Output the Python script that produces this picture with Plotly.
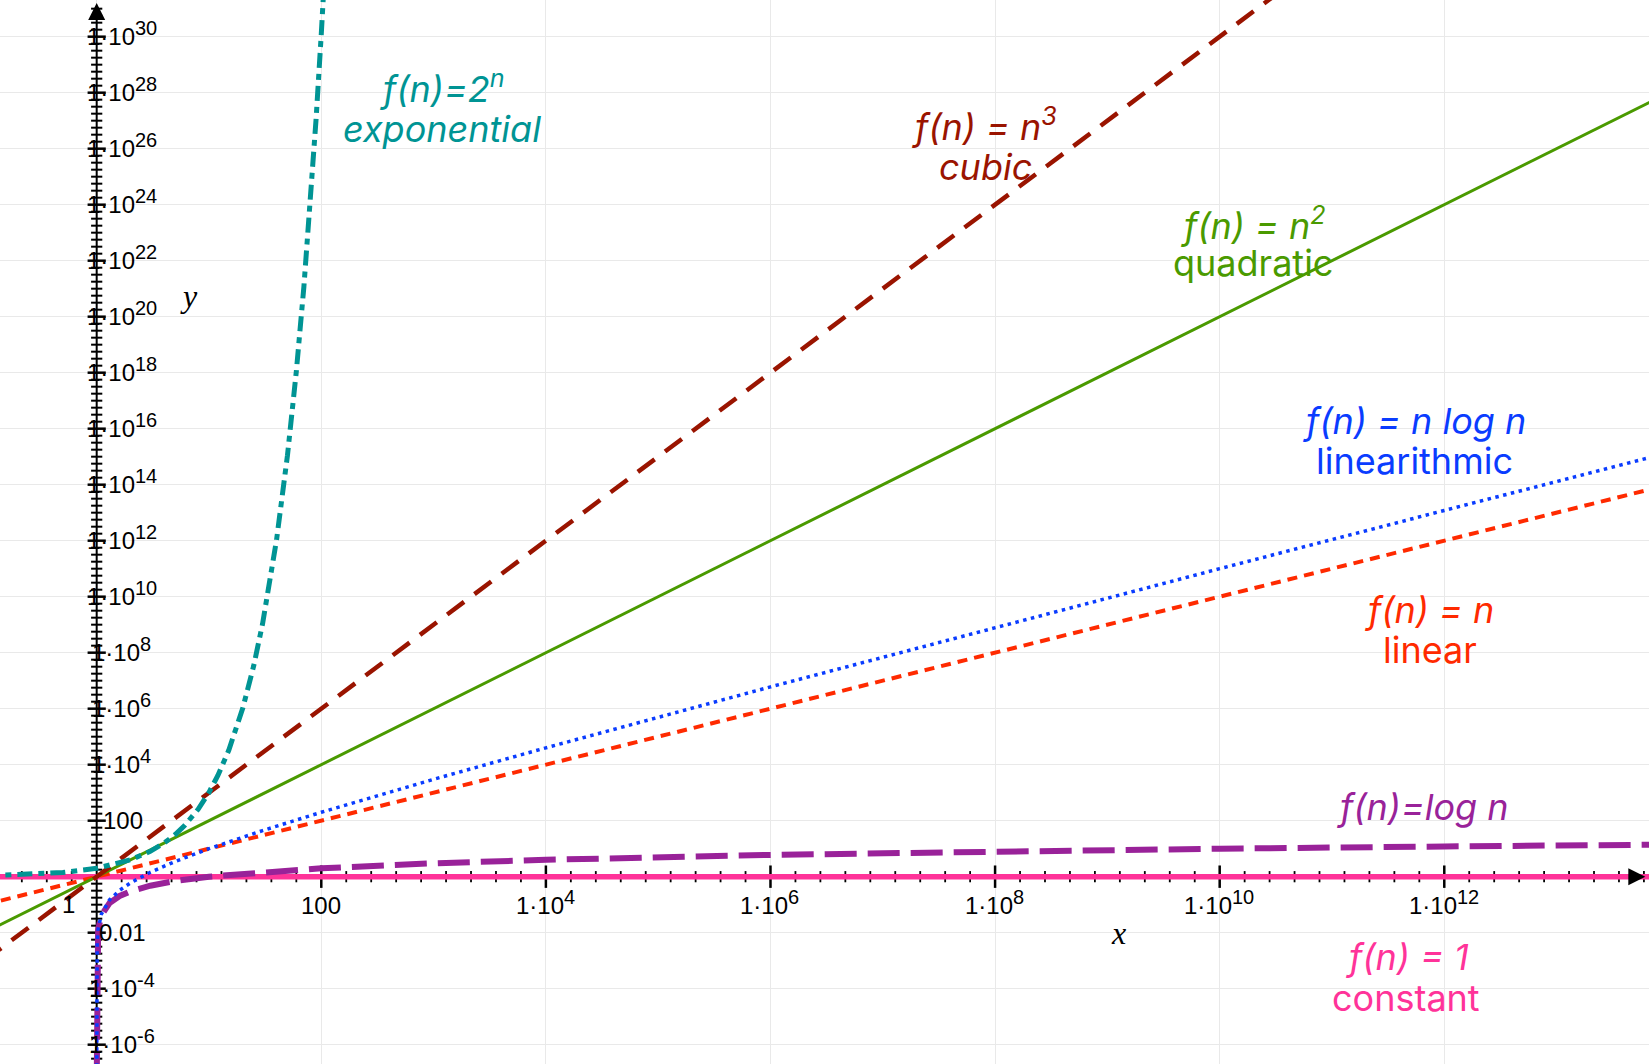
import plotly.graph_objects as go
import numpy as np

# ---------------- data ----------------
n_power = [0.1, 1, 1e14]
y_const = [1, 1, 1]
y_linear = [0.1, 1, 1e14]
y_quadratic = [0.01, 1, 1e28]
y_cubic = [0.001, 1, 1e42]

n_exp = [0.1, 0.3, 0.5, 1, 1.5, 2, 3, 4, 5, 6, 8, 10, 12, 15, 20, 25, 30, 40,
         50, 60, 70, 80, 90, 100, 110]
y_exp = [1.072, 1.231, 1.414, 2, 2.83, 4, 8, 16, 32, 64, 256, 1024, 4096,
         32768, 1.049e6, 3.355e7, 1.074e9, 1.100e12, 1.126e15, 1.153e18,
         1.181e21, 1.209e24, 1.238e27, 1.268e30, 1.298e33]

n_log = [1.0000001, 1.000001, 1.00001, 1.0001, 1.001, 1.01, 1.03, 1.1, 1.3,
         1.6, 2, 3, 5, 10, 30, 100, 1e3, 1e4, 1e6, 1e8, 1e10, 1e12, 1e14]
y_nlogn = [4.34e-8, 4.34e-7, 4.34e-6, 4.34e-5, 4.345e-4, 0.004364, 0.01322,
           0.04553, 0.1481, 0.3266, 0.6021, 1.431, 3.495, 10, 44.31, 200,
           3000, 4e4, 6e6, 8e8, 1e11, 1.2e13, 1.4e15]
y_logn = [4.34e-8, 4.34e-7, 4.34e-6, 4.343e-5, 4.341e-4, 0.004321, 0.01284,
          0.04139, 0.1139, 0.2041, 0.3010, 0.4771, 0.6990, 1, 1.477, 2, 3, 4,
          6, 8, 10, 12, 14]

x_tick_exp = [2, 4, 6, 8, 10, 12]
y_tick_exp = [-6, -4, -2, 2, 4, 6, 8, 10, 12, 14, 16, 18, 20, 22, 24, 26, 28, 30]
# tick label: (base text, exponent text or None)
x_tick_text = [("100", None), ("1·10", "4"), ("1·10", "6"), ("1·10", "8"),
               ("1·10", "10"), ("1·10", "12")]
y_tick_text = [("1·10", "-6"), ("1·10", "-4"), ("0.01", None), ("100", None)] + \
              [("1·10", str(e)) for e in range(4, 31, 2)]

curve_labels = [
    # (text, px, py, color)
    ("<i>f(n)=2<sup>n</sup></i>", 442, 87, "#009494"),
    ("<i>exponential</i>", 442, 129, "#009494"),
    ("<i>f(n) = n<sup>3</sup></i>", 984, 125, "#9a1400"),
    ("<i>cubic</i>", 985, 167, "#9a1400"),
    ("<i>f(n) = n<sup>2</sup></i>", 1253, 224, "#4a9a00"),
    ("quadratic", 1253, 263, "#4a9a00"),
    ("<i>f(n) = n log n</i>", 1414, 421, "#0a3cff"),
    ("linearithmic", 1414, 461, "#0a3cff"),
    ("<i>f(n) = n</i>", 1429, 610, "#ff2a00"),
    ("linear", 1430, 650, "#ff2a00"),
    ("<i>f(n)=log n</i>", 1422, 807, "#992299"),
    ("<i>f(n) = 1</i>", 1407, 957, "#ff3399"),
    ("constant", 1406, 998, "#ff3399"),
]

# ---------------- figure ----------------
W, H = 1649, 1064
x_range = [-0.861, 13.823]
y_range = [-6.69, 31.31]

fig = go.Figure()

# axes lines
fig.add_trace(go.Scatter(x=[1, 1], y=[10 ** y_range[0], 10 ** 31.0], mode="lines",
                         line=dict(color="black", width=2), hoverinfo="skip"))
fig.add_trace(go.Scatter(x=[10 ** x_range[0], 10 ** 13.7], y=[1, 1], mode="lines",
                         line=dict(color="black", width=2), hoverinfo="skip"))

# tick marks crossing the axes
x_major = [10.0 ** k for k in x_tick_exp]
x_minor = [10.0 ** (k * 2 / 9) for k in range(-3, 63) if k % 9 != 0]
y_major = [10.0 ** k for k in y_tick_exp]
y_minor = [10.0 ** (k / 4) for k in range(-26, 125) if k % 8 != 0]

fig.add_trace(go.Scatter(x=x_minor, y=[1] * len(x_minor), mode="markers",
                         marker=dict(symbol="line-ns", size=8, line=dict(width=1.8, color="black")),
                         hoverinfo="skip", cliponaxis=False))
fig.add_trace(go.Scatter(x=x_major, y=[1] * len(x_major), mode="markers",
                         marker=dict(symbol="line-ns", size=16, line=dict(width=2.5, color="black")),
                         hoverinfo="skip"))
fig.add_trace(go.Scatter(x=[1] * len(y_minor), y=y_minor, mode="markers",
                         marker=dict(symbol="line-ew", size=8, line=dict(width=2, color="black")),
                         hoverinfo="skip", cliponaxis=False))
fig.add_trace(go.Scatter(x=[1] * len(y_major), y=y_major, mode="markers",
                         marker=dict(symbol="line-ew", size=13, line=dict(width=2.5, color="black")),
                         hoverinfo="skip"))

# curves
fig.add_trace(go.Scatter(x=n_power, y=y_const, mode="lines",
                         line=dict(color="#ff3399", width=5.5), name="1"))
fig.add_trace(go.Scatter(x=n_log, y=y_logn, mode="lines",
                         line=dict(color="#992299", width=6, dash="32px,11px"), name="log n"))
fig.add_trace(go.Scatter(x=n_power, y=y_linear, mode="lines",
                         line=dict(color="#ff2a00", width=4, dash="10px,7px"), name="n"))
fig.add_trace(go.Scatter(x=n_log, y=y_nlogn, mode="lines",
                         line=dict(color="#0a3cff", width=3.5, dash="3.5px,4.5px"), name="n log n"))
fig.add_trace(go.Scatter(x=n_power, y=y_quadratic, mode="lines",
                         line=dict(color="#4a9a00", width=3), name="n^2"))
fig.add_trace(go.Scatter(x=n_power, y=y_cubic, mode="lines",
                         line=dict(color="#9a1400", width=4.5, dash="21px,13px"), name="n^3"))
fig.add_trace(go.Scatter(x=n_exp, y=y_exp, mode="lines",
                         line=dict(color="#009494", width=5, dash="15px,6px,6px,6px"), name="2^n"))

# arrowheads (on top)
fig.add_trace(go.Scatter(x=[1], y=[10 ** 31.2], mode="markers",
                         marker=dict(symbol="arrow-up", size=17, color="black"),
                         hoverinfo="skip", cliponaxis=False))
fig.add_trace(go.Scatter(x=[10 ** 13.79], y=[1], mode="markers",
                         marker=dict(symbol="arrow-right", size=17, color="black"),
                         hoverinfo="skip", cliponaxis=False))

BASE_FS, EXP_FS = 24, 20
CHAR_W = {"0": .556, "1": .556, "2": .556, "3": .556, "4": .556, "5": .556, "6": .556,
          "7": .556, "8": .556, "9": .556, "·": .278, "-": .333, ".": .278}


def text_w(s, fs):
    return sum(CHAR_W.get(c, .556) for c in s) * fs


base_font = dict(family="Liberation Sans, Arial, sans-serif", size=BASE_FS, color="black")
exp_font = dict(family="Liberation Sans, Arial, sans-serif", size=EXP_FS, color="black")
annotations = []


def add_tick_label(xv, yv, base, ex, xshift, yshift):
    if ex is None:
        annotations.append(dict(x=xv, y=yv, xref="x", yref="y", text=base, showarrow=False,
                                xanchor="center", yanchor="middle", xshift=xshift,
                                yshift=yshift, font=base_font, borderpad=0))
        return
    bw, ew = text_w(base, BASE_FS), text_w(ex, EXP_FS)
    split = xshift - (bw + ew) / 2 + bw
    annotations.append(dict(x=xv, y=yv, xref="x", yref="y", text=base, showarrow=False,
                            xanchor="right", yanchor="middle", xshift=split + 1,
                            yshift=yshift, font=base_font, borderpad=0))
    annotations.append(dict(x=xv, y=yv, xref="x", yref="y", text=ex, showarrow=False,
                            xanchor="left", yanchor="middle", xshift=split - 1,
                            yshift=yshift + 9, font=exp_font, borderpad=0))


for e, (b, ex) in zip(x_tick_exp, x_tick_text):
    add_tick_label(e, 0, b, ex, 0, -29)
add_tick_label(0, 0, "1", None, -28, -28)
for e, (b, ex) in zip(y_tick_exp, y_tick_text):
    add_tick_label(0, e, b, ex, 26, 0)

# axis names
annotations.append(dict(x=1118 / W, y=1 - 933 / H, xref="paper", yref="paper",
                        text="<i>x</i>", showarrow=False, xanchor="center", yanchor="middle",
                        font=dict(family="Liberation Serif, serif", size=32, color="black")))
annotations.append(dict(x=189 / W, y=1 - 296 / H, xref="paper", yref="paper",
                        text="<i>y</i>", showarrow=False, xanchor="center", yanchor="middle",
                        font=dict(family="Liberation Serif, serif", size=32, color="black")))

for text, px, py, col in curve_labels:
    annotations.append(dict(x=px / W, y=1 - py / H, xref="paper", yref="paper",
                            text=text, showarrow=False, xanchor="center", yanchor="middle",
                            font=dict(family="Inter, Noto Sans, sans-serif", size=36, color=col)))

fig.update_layout(
    width=W, height=H,
    margin=dict(l=0, r=0, t=0, b=0),
    paper_bgcolor="white", plot_bgcolor="white",
    showlegend=False,
    annotations=annotations,
    xaxis=dict(type="log", range=x_range, domain=[0, 1],
               tickvals=[10.0 ** k for k in range(-2, 14, 2)],
               showticklabels=False, ticks="", showgrid=True,
               gridcolor="#e9e9e9", gridwidth=1, zeroline=False, showline=False),
    yaxis=dict(type="log", range=y_range, domain=[0, 1],
               tickvals=[10.0 ** k for k in range(-6, 32, 2)],
               showticklabels=False, ticks="", showgrid=True,
               gridcolor="#e9e9e9", gridwidth=1, zeroline=False, showline=False),
)

fig.write_html("out.html", config={"displayModeBar": False},
               post_script="document.body.style.margin='0';document.body.style.overflow='hidden';")
